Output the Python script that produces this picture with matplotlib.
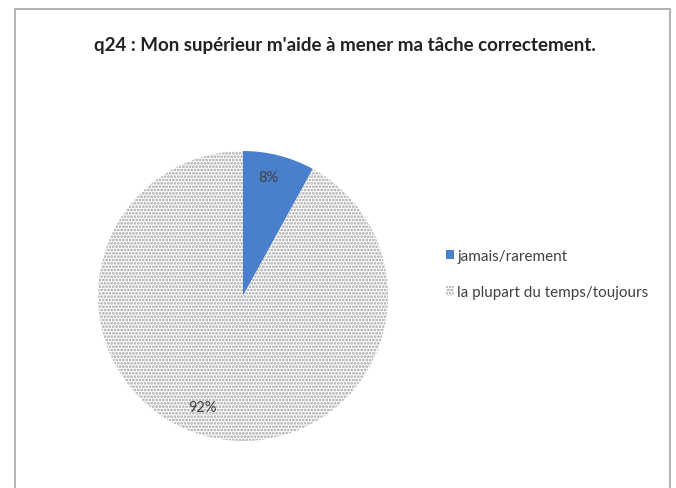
import matplotlib
matplotlib.use("Agg")
import matplotlib.pyplot as plt
from matplotlib.patches import Rectangle
import matplotlib as mpl

categories = ["jamais/rarement", "la plupart du temps/toujours"]
values = [8, 92]
labels_pct = ["8%", "92%"]
title = "q24 : Mon supérieur m'aide à mener ma tâche correctement."

mpl.rcParams['hatch.color'] = '#a0a0a0'
mpl.rcParams['hatch.linewidth'] = 1.3
plt.rcParams['font.family'] = ['Lato', 'DejaVu Sans']

W, H = 676, 489
fig = plt.figure(figsize=(W/100, H/100), dpi=100)
fig.patch.set_facecolor('white')

# chart frame
fig.patches.append(Rectangle((15/W, -0.05), (670-15)/W, 1 - 10/H + 0.05,
                             transform=fig.transFigure, fill=False,
                             edgecolor='#a6a6a6', linewidth=1.2))

ax = fig.add_axes([98/W, (489-442)/H, 290/W, 290/H])
wedges, _ = ax.pie(values, startangle=90, counterclock=False,
                   colors=['#4a7fcb', 'white'],
                   wedgeprops=dict(linewidth=0))
wedges[1].set_hatch('.....')
wedges[1].set_edgecolor('#a0a0a0')
wedges[1].set_linewidth(0)
ax.set_xlim(-1, 1)
ax.set_ylim(-1, 1)
ax.set_aspect('equal')

# percentage labels
fig.text(268/W, 1-178/H, labels_pct[0], ha='center', va='center',
         fontsize=10.5, color='#404040')
fig.text(202/W, 1-408/H, labels_pct[1], ha='center', va='center',
         fontsize=10.5, color='#404040')

fig.text(345/W, 1-46/H, title, ha='center', va='center',
         fontsize=13.5, fontweight='bold', color='#222222')

leg = fig.legend(wedges, categories, loc='center left',
                 bbox_to_anchor=(432/W, 1-275/H), frameon=False,
                 fontsize=11, handlelength=0.55, handleheight=0.55,
                 handletextpad=0.2, labelspacing=1.5)
for t in leg.get_texts():
    t.set_color('#404040')

fig.savefig('out.png', dpi=100, facecolor='white')
